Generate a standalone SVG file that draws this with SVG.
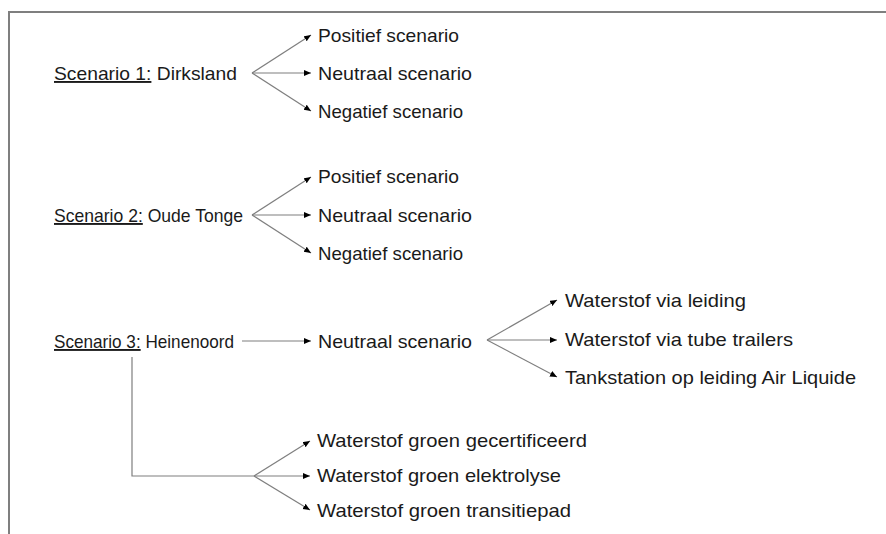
<svg xmlns="http://www.w3.org/2000/svg" width="886" height="534" viewBox="0 0 886 534">
<defs>
<style>
.lbl{font-family:"Liberation Sans",Arial,sans-serif;font-size:19px;fill:#1a1a1a}
.u{text-decoration:underline}
.c{stroke:#7f7f7f;stroke-width:1.2;fill:none}
.a{marker-end:url(#ah)}
.frame{stroke:#7f7f7f;stroke-width:2;fill:none}
</style>
<marker id="ah" markerUnits="userSpaceOnUse" markerWidth="8" markerHeight="7" refX="7" refY="3" orient="auto">
<path d="M0,0 L7,3 L0,6 Z" fill="#000"/>
</marker>
</defs>
<rect width="886" height="534" fill="#fff"/>
<path class="frame" d="M9,534 V12 H886"/>
<g id="connectors">
<line class="c a" x1="252" y1="73" x2="311" y2="35"/>
<line class="c a" x1="252" y1="73" x2="311" y2="73"/>
<line class="c a" x1="252" y1="73" x2="311" y2="111"/>
<line class="c a" x1="252" y1="215" x2="311" y2="177"/>
<line class="c a" x1="252" y1="215" x2="311" y2="215"/>
<line class="c a" x1="252" y1="215" x2="311" y2="253"/>
<line class="c a" x1="242" y1="341" x2="311" y2="341"/>
<line class="c a" x1="487" y1="340" x2="557" y2="300"/>
<line class="c a" x1="487" y1="340" x2="557" y2="340"/>
<line class="c a" x1="487" y1="340" x2="557" y2="377"/>
<path class="c" d="M132,357 V476 H254"/>
<line class="c a" x1="254" y1="476" x2="310" y2="441"/>
<line class="c a" x1="254" y1="476" x2="310" y2="476"/>
<line class="c a" x1="254" y1="476" x2="310" y2="510"/>
</g>
<g id="s1"><text class="lbl" x="54" y="80" textLength="183" lengthAdjust="spacingAndGlyphs"><tspan class="u">Scenario 1:</tspan> Dirksland</text></g>
<g id="s1-pos"><text class="lbl" x="318" y="42" textLength="141" lengthAdjust="spacingAndGlyphs">Positief scenario</text></g>
<g id="s1-neu"><text class="lbl" x="318" y="80" textLength="154" lengthAdjust="spacingAndGlyphs">Neutraal scenario</text></g>
<g id="s1-neg"><text class="lbl" x="318" y="118" textLength="145" lengthAdjust="spacingAndGlyphs">Negatief scenario</text></g>
<g id="s2"><text class="lbl" x="54" y="222" textLength="189" lengthAdjust="spacingAndGlyphs"><tspan class="u">Scenario 2:</tspan> Oude Tonge</text></g>
<g id="s2-pos"><text class="lbl" x="318" y="183" textLength="141" lengthAdjust="spacingAndGlyphs">Positief scenario</text></g>
<g id="s2-neu"><text class="lbl" x="318" y="222" textLength="154" lengthAdjust="spacingAndGlyphs">Neutraal scenario</text></g>
<g id="s2-neg"><text class="lbl" x="318" y="260" textLength="145" lengthAdjust="spacingAndGlyphs">Negatief scenario</text></g>
<g id="s3"><text class="lbl" x="54" y="348" textLength="180" lengthAdjust="spacingAndGlyphs"><tspan class="u">Scenario 3:</tspan> Heinenoord</text></g>
<g id="s3-neu"><text class="lbl" x="318" y="348" textLength="154" lengthAdjust="spacingAndGlyphs">Neutraal scenario</text></g>
<g id="s3-leiding"><text class="lbl" x="565" y="307" textLength="181" lengthAdjust="spacingAndGlyphs">Waterstof via leiding</text></g>
<g id="s3-tube"><text class="lbl" x="565" y="346" textLength="228" lengthAdjust="spacingAndGlyphs">Waterstof via tube trailers</text></g>
<g id="s3-tank"><text class="lbl" x="565" y="384" textLength="291" lengthAdjust="spacingAndGlyphs">Tankstation op leiding Air Liquide</text></g>
<g id="s3-gecert"><text class="lbl" x="317" y="447" textLength="270" lengthAdjust="spacingAndGlyphs">Waterstof groen gecertificeerd</text></g>
<g id="s3-elek"><text class="lbl" x="317" y="482" textLength="244" lengthAdjust="spacingAndGlyphs">Waterstof groen elektrolyse</text></g>
<g id="s3-trans"><text class="lbl" x="317" y="517" textLength="254" lengthAdjust="spacingAndGlyphs">Waterstof groen transitiepad</text></g>
</svg>
